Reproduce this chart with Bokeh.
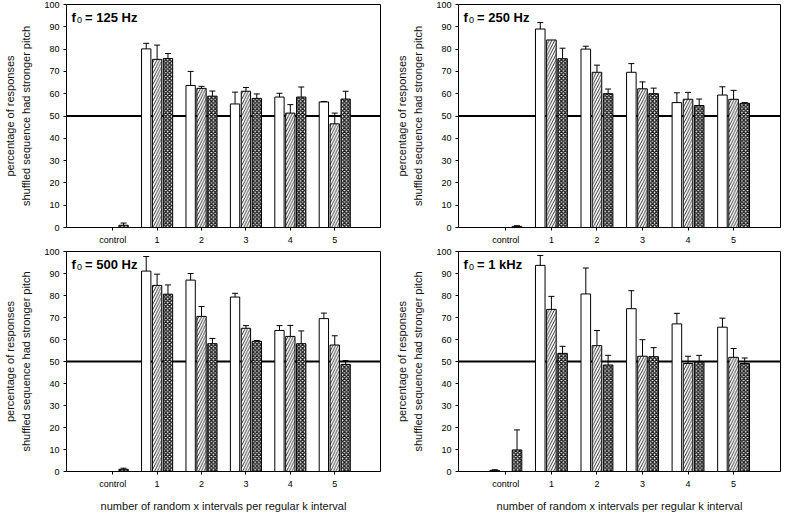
from bokeh.plotting import figure
from bokeh.models import Range1d, FixedTicker, Span, Whisker, TeeHead, ColumnDataSource, Label
from bokeh.layouts import column, row
from bokeh.embed import file_html
from bokeh.resources import INLINE

# ---------------- data ----------------
x_labels = ["control", "1", "2", "3", "4", "5"]
positions = [0, 1, 2, 3, 4, 5]

f125_white = [0.0, 80.1, 63.7, 55.4, 58.5, 56.3]
f125_white_err = [0.0, 2.5, 6.3, 5.3, 1.7, 0.2]
f125_hatch = [0.0, 75.4, 62.4, 61.1, 51.3, 46.5]
f125_hatch_err = [0.0, 6.4, 0.9, 1.7, 3.8, 4.8]
f125_cross = [1.0, 75.8, 58.9, 57.9, 58.5, 57.6]
f125_cross_err = [1.0, 2.2, 2.3, 2.0, 4.5, 3.5]

f250_white = [0.0, 89.0, 80.0, 69.6, 56.0, 59.4]
f250_white_err = [0.0, 2.9, 1.3, 3.9, 4.4, 3.7]
f250_hatch = [0.0, 84.1, 69.6, 62.2, 57.5, 57.5]
f250_hatch_err = [0.0, 0.0, 3.2, 3.1, 3.1, 4.0]
f250_cross = [0.5, 75.7, 60.0, 60.0, 54.7, 55.7]
f250_cross_err = [0.3, 4.7, 2.1, 2.5, 2.9, 0.3]

f500_white = [0.0, 91.1, 87.0, 79.3, 64.1, 69.5]
f500_white_err = [0.0, 6.6, 3.0, 1.7, 2.2, 2.5]
f500_hatch = [0.0, 84.6, 70.5, 65.1, 61.4, 57.5]
f500_hatch_err = [0.0, 5.1, 4.5, 1.2, 5.0, 4.2]
f500_cross = [1.0, 80.6, 58.1, 59.2, 58.1, 48.7]
f500_cross_err = [0.5, 4.2, 2.4, 0.3, 5.8, 1.7]

f1k_white = [0.5, 93.7, 80.7, 74.0, 67.1, 65.6]
f1k_white_err = [0.3, 4.5, 11.8, 8.2, 4.8, 4.1]
f1k_hatch = [0.0, 73.7, 57.2, 52.4, 49.1, 51.9]
f1k_hatch_err = [0.0, 5.9, 6.9, 7.5, 3.3, 4.0]
f1k_cross = [9.8, 53.7, 48.4, 52.2, 49.7, 49.1]
f1k_cross_err = [9.1, 3.2, 4.4, 4.1, 3.1, 2.5]

panel_freqs = ["125 Hz", "250 Hz", "500 Hz", "1 kHz"]
y_title = "percentage of responses\nshuffled sequence had stronger pitch"
x_title = "number of random x intervals per regular k interval"
reference_level = 50

FONT = "Liberation Sans"
BAR_W = 0.21
OFFSETS = [-0.245, 0.0, 0.245]
STYLES = [
    dict(fill_color="white", hatch_pattern=None),
    dict(fill_color="white", hatch_pattern="/", hatch_color="black", hatch_scale=5.5, hatch_weight=0.8),
    dict(fill_color="white", hatch_pattern="x", hatch_color="#1a1a1a", hatch_scale=3.8, hatch_weight=1.5),
]


def make_panel(freq, series, width, height, b_left, b_right, b_bottom, show_xtitle):
    p = figure(width=width, height=height,
               x_range=Range1d(-1.04, 6.03), y_range=Range1d(0, 100),
               output_backend="svg", toolbar_location=None,
               min_border_left=b_left, min_border_right=b_right,
               min_border_top=4, min_border_bottom=b_bottom)
    p.background_fill_color = "white"
    p.border_fill_color = "white"
    p.outline_line_color = "black"
    p.outline_line_width = 1
    p.outline_line_alpha = 1
    p.xgrid.visible = False
    p.ygrid.visible = False

    p.add_layout(Span(location=reference_level, dimension="width",
                      line_color="black", line_width=2, level="underlay"))

    for (vals, errs), off, st in zip(series, OFFSETS, STYLES):
        xs = [pos + off for pos in positions]
        src = ColumnDataSource(dict(x=xs, top=vals))
        kw = {k: v for k, v in st.items() if v is not None}
        p.vbar(x="x", top="top", bottom=0, width=BAR_W, source=src,
               line_color="black", line_width=1, **kw)
        wx = [x for x, e in zip(xs, errs) if e > 0]
        wl = [v for v, e in zip(vals, errs) if e > 0]
        wu = [v + e for v, e in zip(vals, errs) if e > 0]
        wsrc = ColumnDataSource(dict(base=wx, lower=wl, upper=wu))
        p.add_layout(Whisker(source=wsrc, base="base", lower="lower", upper="upper",
                             dimension="height", line_color="black", line_width=1,
                             upper_head=TeeHead(size=6, line_color="black", line_width=1),
                             lower_head=None, level="glyph"))

    p.yaxis.ticker = FixedTicker(ticks=list(range(0, 101, 10)))
    p.xaxis.ticker = FixedTicker(ticks=positions)
    p.xaxis.major_label_overrides = {pos: lab for pos, lab in zip(positions, x_labels)}
    for ax in (p.xaxis, p.yaxis):
        ax.minor_tick_line_color = None
        ax.major_tick_out = 3
        ax.major_tick_in = 0
        ax.major_label_standoff = 4
        ax.axis_line_color = "black"
        ax.major_tick_line_color = "black"
        ax.major_label_text_font = FONT
        ax.major_label_text_font_size = "9px"
        ax.major_label_text_color = "black"
        ax.axis_label_text_font = FONT
        ax.axis_label_text_font_style = "normal"
        ax.axis_label_text_font_size = "11px"
        ax.axis_label_text_color = "#111111"
    p.yaxis.axis_label = y_title
    p.yaxis.axis_label_standoff = 9
    p.yaxis.axis_label_text_line_height = 1.4
    if show_xtitle:
        p.xaxis.axis_label = x_title
        p.xaxis.axis_label_standoff = 8

    p.add_layout(Label(x=-1.04, y=100, x_offset=5, y_offset=-5, text="f",
                       text_font=FONT, text_font_style="bold", text_font_size="13px",
                       text_baseline="top", text_color="black"))
    p.add_layout(Label(x=-1.04, y=100, x_offset=10.5, y_offset=-12, text="0",
                       text_font=FONT, text_font_style="normal", text_font_size="9px",
                       text_baseline="top", text_color="black"))
    p.add_layout(Label(x=-1.04, y=100, x_offset=18.5, y_offset=-5, text="= " + freq,
                       text_font=FONT, text_font_style="bold", text_font_size="13px",
                       text_baseline="top", text_color="black"))
    return p


p1 = make_panel(panel_freqs[0], [(f125_white, f125_white_err), (f125_hatch, f125_hatch_err), (f125_cross, f125_cross_err)],
                388, 247, 60, 8, 19, False)
p2 = make_panel(panel_freqs[1], [(f250_white, f250_white_err), (f250_hatch, f250_hatch_err), (f250_cross, f250_cross_err)],
                396, 247, 70, 4, 19, False)
p3 = make_panel(panel_freqs[2], [(f500_white, f500_white_err), (f500_hatch, f500_hatch_err), (f500_cross, f500_cross_err)],
                388, 267, 60, 8, 39, True)
p4 = make_panel(panel_freqs[3], [(f1k_white, f1k_white_err), (f1k_hatch, f1k_hatch_err), (f1k_cross, f1k_cross_err)],
                396, 267, 70, 4, 39, True)

layout = column(row(p1, p2), row(p3, p4))
open("out.html", "w").write(file_html(layout, INLINE))
